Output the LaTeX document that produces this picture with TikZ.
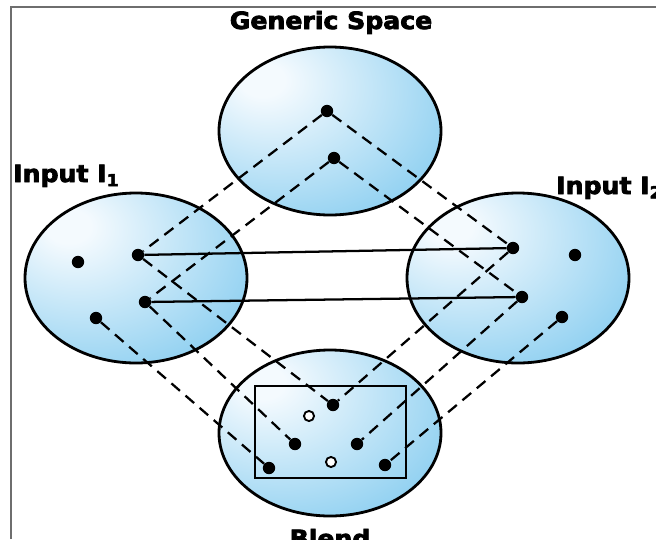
\documentclass[tikz,border=0pt]{standalone}
\usepackage{fontspec}
\newfontfamily\labelfont{DejaVu Sans}[UprightFont={* Bold}, FakeStretch=1.06, FakeBold=3.2]
\usetikzlibrary{positioning}
\definecolor{spaceblue}{RGB}{100,190,235}
\definecolor{spacelight}{RGB}{244,250,254}
\definecolor{framegray}{RGB}{110,110,110}
\pgfdeclareradialshading{spaceshade}{\pgfpoint{-16bp}{16bp}}{%
  color(0bp)=(spacelight); color(5bp)=(spacelight); color(55bp)=(spaceblue); color(100bp)=(spaceblue)}
\tikzset{
  space/.style={shade, shading=spaceshade, draw=black, line width=2.1pt},
  dot/.style={circle, fill=black, inner sep=0pt, minimum size=9.3pt},
  hollow/.style={circle, draw=black, fill=white, line width=1.4pt, inner sep=0pt, minimum size=7.6pt},
  mapline/.style={dash pattern=on 8.5pt off 5.5pt, line width=1.7pt},
  linkline/.style={line width=1.7pt},
  title/.style={font=\labelfont\fontsize{17.8}{20}\selectfont, inner sep=0pt}
}

\begin{document}
\begin{tikzpicture}[x=0.75pt,y=0.75pt,yscale=-1,xscale=1]
\useasboundingbox (0,0) rectangle (656,539);

%Frame
\draw [framegray, line width=1.1pt] (11,539) -- (11,7) -- (656,7);

%Shape: Ellipse (generic space)
\path [space] (330,131) ellipse [x radius=111, y radius=84];
%Shape: Ellipse (input 1)
\path [space] (136,278) ellipse [x radius=111, y radius=85];
%Shape: Ellipse (input 2)
\path [space] (518,278) ellipse [x radius=111, y radius=85];
%Shape: Ellipse (blend)
\path [space] (330,433) ellipse [x radius=111, y radius=83];
%Shape: Rectangle
\draw [line width=2.1pt] (255,386) rectangle (406,478);

% Generic space points
\node [dot] (g1) at (327,111) {};
\node [dot] (g2) at (334,158) {};
% Input 1 points
\node [dot] (a0) at (78,262) {};
\node [dot] (a1) at (138,255) {};
\node [dot] (a2) at (145,302) {};
\node [dot] (a3) at (96,318) {};
% Input 2 points
\node [dot] (b1) at (513,248) {};
\node [dot] (b0) at (575,255) {};
\node [dot] (b2) at (522,297) {};
\node [dot] (b3) at (562,317) {};
% Blend points
\node [dot] (c1) at (333,405) {};
\node [dot] (c2) at (295,444) {};
\node [dot] (c3) at (357,444) {};
\node [dot] (c4) at (269,468) {};
\node [dot] (c5) at (385,465) {};
\node [hollow] (e1) at (309,416) {};
\node [hollow] (e2) at (331,462) {};

% Cross-space mapping
\draw [linkline] (a1) -- (b1);
\draw [linkline] (a2) -- (b2);

% Generic space to inputs
\draw [mapline] (g1) -- (a1);
\draw [mapline] (g1) -- (b1);
\draw [mapline] (g2) -- (a2);
\draw [mapline] (g2) -- (b2);
% Inputs to blend
\draw [mapline] (a1) -- (c1);
\draw [mapline] (b1) -- (c1);
\draw [mapline] (a2) -- (c2);
\draw [mapline] (b2) -- (c3);
\draw [mapline] (a3) -- (c4);
\draw [mapline] (b3) -- (c5);

% Text Node
\node [title, anchor=base] (generic) at (331,29) {Generic Space};
% Text Node
\node [title, anchor=base west] (input1) at (13,182) {Input I\textsubscript{1}};
% Text Node
\node [title, anchor=base west] (input2) at (556,194) {Input I\textsubscript{2}};
% Text Node
\node [title, anchor=base] (blend) at (330,547) {Blend};

\end{tikzpicture}
\end{document}
